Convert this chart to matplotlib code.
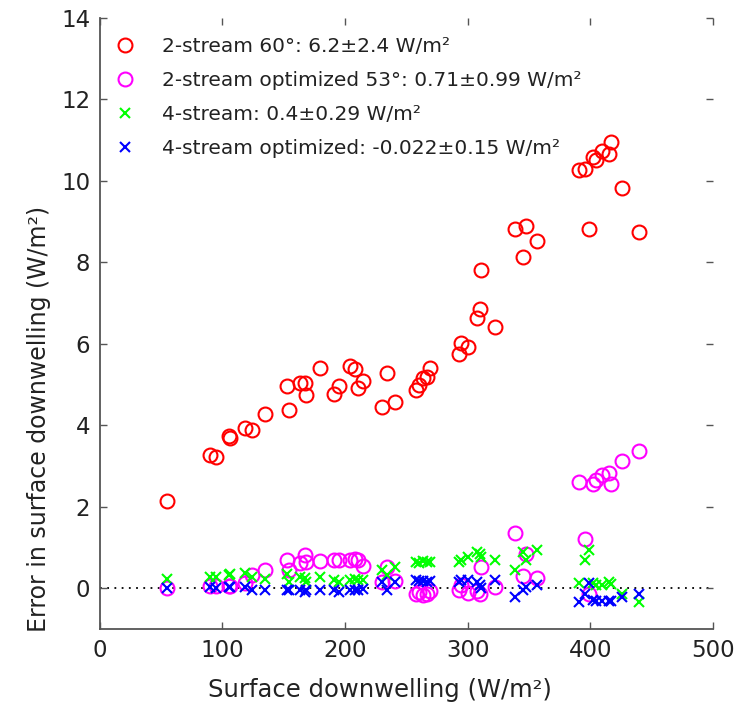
import matplotlib
matplotlib.use("Agg")
import matplotlib.pyplot as plt

plt.rcParams['font.family'] = ['DejaVu Sans']

# Surface downwelling (W/m²) — shared sample positions
x_vals = [55, 90, 95, 105, 106, 118, 124, 135, 153, 154, 163, 167, 168, 180,
          191, 195, 204, 208, 211, 215, 230, 234, 241, 258, 260, 264, 267, 269,
          293, 295, 300, 308, 310, 311, 322, 339, 345, 348, 357, 391, 396, 399,
          402, 405, 410, 415, 417, 426, 440]

err_2s60 = [2.14, 3.27, 3.21, 3.73, 3.68, 3.93, 3.88, 4.28, 4.97, 4.37, 5.03, 5.04,
            4.74, 5.40, 4.77, 4.97, 5.45, 5.38, 4.91, 5.09, 4.45, 5.29, 4.58, 4.86,
            4.99, 5.16, 5.18, 5.41, 5.75, 6.02, 5.91, 6.63, 6.85, 7.80, 6.41, 8.81,
            8.14, 8.89, 8.53, 10.27, 10.29, 8.81, 10.57, 10.50, 10.72, 10.66, 10.94,
            9.82, 8.74]

err_2s53 = [0.00, 0.05, 0.05, 0.05, 0.05, 0.12, 0.32, 0.44, 0.69, 0.44, 0.61, 0.81,
            0.65, 0.66, 0.69, 0.69, 0.70, 0.73, 0.69, 0.54, 0.15, 0.52, 0.17, -0.13,
            -0.10, -0.17, -0.15, -0.07, -0.05, 0.07, -0.11, -0.07, -0.13, 0.53, 0.02,
            1.35, 0.30, 0.85, 0.25, 2.61, 1.21, -0.13, 2.57, 2.65, 2.78, 2.82, 2.57,
            3.13, 3.37]

err_4s = [0.22, 0.28, 0.28, 0.32, 0.36, 0.37, 0.28, 0.24, 0.36, 0.15, 0.28, 0.25,
          0.15, 0.28, 0.20, 0.15, 0.20, 0.22, 0.20, 0.20, 0.44, 0.32, 0.52, 0.65,
          0.62, 0.67, 0.65, 0.65, 0.65, 0.70, 0.77, 0.89, 0.85, 0.77, 0.69, 0.44,
          0.89, 0.69, 0.93, 0.12, 0.70, 0.93, 0.12, 0.07, 0.07, 0.15, 0.10, -0.15,
          -0.34]

err_4sopt = [0.00, 0.02, 0.00, 0.02, 0.02, 0.02, -0.03, -0.05, -0.05, -0.03, -0.05,
             -0.08, -0.05, -0.05, -0.03, -0.08, -0.03, -0.03, -0.03, -0.01, 0.15,
             -0.03, 0.15, 0.20, 0.18, 0.18, 0.15, 0.18, 0.15, 0.20, 0.20, 0.15, 0.07,
             0.00, 0.20, -0.21, -0.05, 0.03, 0.07, -0.34, -0.13, 0.12, -0.29, -0.31,
             -0.31, -0.31, -0.31, -0.21, -0.15]

labels = ["2-stream 60°: 6.2±2.4 W/m²",
          "2-stream optimized 53°: 0.71±0.99 W/m²",
          "4-stream: 0.4±0.29 W/m²",
          "4-stream optimized: -0.022±0.15 W/m²"]

fig = plt.figure(figsize=(7.51, 7.06), dpi=100)
ax = fig.add_axes([0.133, 0.109, 0.816, 0.866])

ax.plot([0, 500], [0, 0], linestyle=(0, (1, 3)), color='black', lw=1.3, zorder=1)

ax.plot(x_vals, err_2s60, 'o', mfc='none', mec=(1, 0, 0), ms=10, mew=1.5, label=labels[0])
ax.plot(x_vals, err_2s53, 'o', mfc='none', mec=(1, 0, 1), ms=10, mew=1.5, label=labels[1])
ax.plot(x_vals, err_4s, 'x', color=(0, 1, 0), ms=7.5, mew=1.5, label=labels[2])
ax.plot(x_vals, err_4sopt, 'x', color=(0, 0, 1), ms=7.5, mew=1.5, label=labels[3])

ax.set_xlim(0, 500)
ax.set_ylim(-1, 14)
ax.set_xticks([0, 100, 200, 300, 400, 500])
ax.set_yticks([0, 2, 4, 6, 8, 10, 12, 14])

for s in ['top', 'right']:
    ax.spines[s].set_visible(False)
for s in ['left', 'bottom']:
    ax.spines[s].set_color('#555555')
    ax.spines[s].set_linewidth(1.3)

ax.tick_params(direction='in', length=5, width=1, colors='#555555',
               labelcolor='#222222', labelsize=16.5, top=True, right=True, pad=7)

ax.set_xlabel("Surface downwelling (W/m²)", fontsize=17.5, color='#222222')
ax.set_ylabel("Error in surface downwelling (W/m²)", fontsize=17, color='#222222')
ax.xaxis.set_label_coords(0.457, -0.080)
ax.yaxis.set_label_coords(-0.079, 0.344)

leg = ax.legend(loc='upper left', frameon=False, fontsize=14.5, handletextpad=1.25,
                labelspacing=0.75, borderaxespad=0.0, handlelength=1.2,
                bbox_to_anchor=(0.008, 0.982))
for t in leg.get_texts():
    t.set_color('#222222')

fig.savefig("out.png", dpi=100)
